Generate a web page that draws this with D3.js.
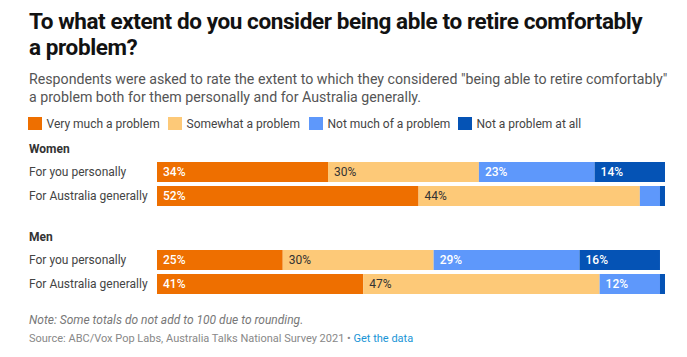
<!DOCTYPE html>
<html><head><meta charset="utf-8">
<script src="https://cdn.jsdelivr.net/npm/d3@7"></script>
<style>
html,body{margin:0;padding:0;background:#fff;}
svg{display:block;font-family:Roboto, "Noto Sans", sans-serif;}
</style></head>
<body>
<svg id="chart" width="687" height="357"></svg>
<script>
const titleLines = ["To what extent do you consider being able to retire comfortably", "a problem?"];
const subtitleLines = ["Respondents were asked to rate the extent to which they considered \"being able to retire comfortably\"", "a problem both for them personally and for Australia generally."];
const categories = ["Very much a problem", "Somewhat a problem", "Not much of a problem", "Not a problem at all"];
const colors = ["#ee6f00", "#fdc978", "#5e98fb", "#0553b5"];
const labelColors = ["#fff", "#333", "#fff", "#fff"];
const groups = ["Women", "Men"];
const rows = ["For you personally", "For Australia generally"];
const womenValues = [[34, 30, 23, 14], [52, 44, 4, 1]];
const menValues = [[25, 30, 29, 16], [41, 47, 12, 1]];
const note = "Note: Some totals do not add to 100 due to rounding.";
const source = "Source: ABC/Vox Pop Labs, Australia Talks National Survey 2021 • ";
const linkText = "Get the data";

const svg = d3.select("#chart");
const left = 29;

// Title
svg.append("text").attr("x", left).attr("y", 29).attr("font-size", 22.5).attr("font-weight", 700).attr("fill", "#121212")
  .attr("letter-spacing", -0.4)
  .selectAll("tspan").data(titleLines).join("tspan").attr("x", left).attr("dy", (d, i) => i ? 26 : 0).text(d => d);

// Subtitle
svg.append("text").attr("x", left).attr("y", 84).attr("font-size", 14.2).attr("fill", "#555")
  .selectAll("tspan").data(subtitleLines).join("tspan").attr("x", left).attr("dy", (d, i) => i ? 17.5 : 0).text(d => d);

// Legend
const legendX = [28, 168, 309, 458];
const lg = svg.append("g").selectAll("g").data(categories).join("g")
  .attr("transform", (d, i) => `translate(${legendX[i]},117)`);
lg.append("rect").attr("width", 14).attr("height", 13).attr("fill", (d, i) => colors[i]);
lg.append("text").attr("x", 18.5).attr("y", 11).attr("font-size", 12).attr("fill", "#444").text(d => d);

// Scales
const data = [womenValues, menValues];
const maxTotal = d3.max(data.flat(), r => d3.sum(r));
const x = d3.scaleLinear().domain([0, maxTotal]).range([157, 665]);
const groupY = d3.scaleOrdinal().domain(groups).range([162, 250]);
const rowY = d3.scaleBand().domain(rows).range([0, 44]).paddingInner(0.1667);

groups.forEach((g, gi) => {
  const gy = groupY(g);
  svg.append("text").attr("x", left).attr("y", gy - 9).attr("font-size", 12).attr("font-weight", 700).attr("fill", "#333").text(g);
  rows.forEach((r, ri) => {
    const vals = data[gi][ri];
    const y0 = gy + rowY(r);
    const h = rowY.bandwidth();
    svg.append("text").attr("x", left).attr("y", y0 + h / 2 + 4.3).attr("font-size", 12).attr("fill", "#444").text(r);
    let cum = 0;
    const segs = vals.map((v, i) => { const s = {v, i, start: cum}; cum += v; return s; });
    const row = svg.append("g");
    row.selectAll("rect").data(segs).join("rect")
      .attr("x", d => x(d.start)).attr("y", y0)
      .attr("width", d => x(d.start + d.v) - x(d.start)).attr("height", h)
      .attr("fill", d => colors[d.i]);
    row.selectAll("text").data(segs.filter(d => d.v >= 8)).join("text")
      .attr("x", d => x(d.start) + 6).attr("y", y0 + h / 2 + 4.3)
      .attr("font-size", 12).attr("font-weight", d => d.i === 1 ? 400 : 500)
      .attr("fill", d => labelColors[d.i]).text(d => d.v + "%");
  });
});

// Footer
svg.append("text").attr("x", left).attr("y", 324).attr("font-size", 12).attr("font-style", "italic").attr("fill", "#777").text(note);
const src = svg.append("text").attr("x", left).attr("y", 342).attr("font-size", 11).attr("fill", "#888");
src.append("tspan").text(source);
src.append("tspan").attr("fill", "#1a95d6").text(linkText);
</script>
</body></html>
